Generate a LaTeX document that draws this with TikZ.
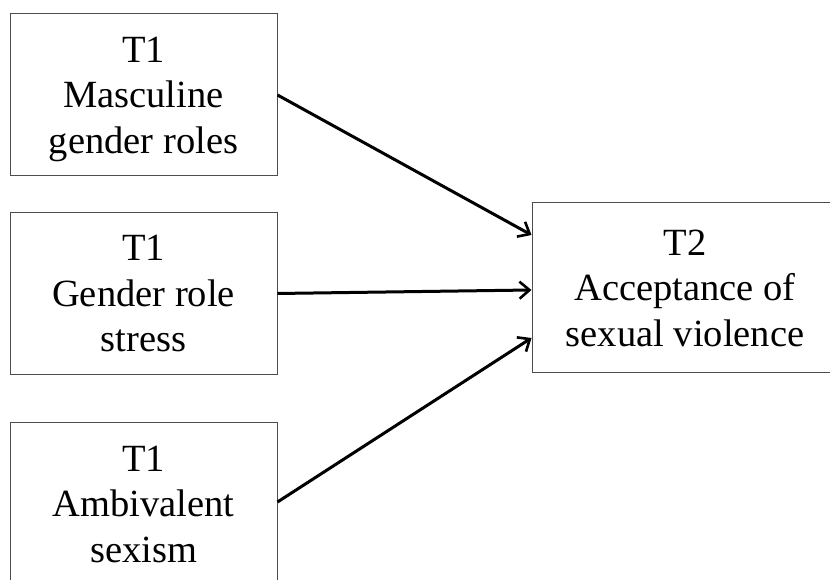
\documentclass[tikz,border=0pt]{standalone}
\usepackage{fontspec}
\setmainfont{Liberation Serif}
\usepackage{tikz}
\usetikzlibrary{arrows.meta}
\usepackage{xcolor}

\begin{document}
\begin{tikzpicture}[x=1pt,y=1pt,
  varbox/.style={draw=black!70,line width=1pt,minimum width=267pt,minimum height=162pt,
    inner sep=0pt,align=center,text depth=-11pt,font=\fontsize{38.5}{45.5}\selectfont},
  effect/.style={draw=black,line width=3pt,-{Straight Barb[length=10pt,width=17pt,line width=2.6pt]}}]
  \clip (0,0) rectangle (830,580);
  \fill[white] (0,0) rectangle (830,580);

  % T1 predictors
  \node [varbox] (masc) at (143.5,485) {T1\\Masculine\\gender roles};
  \node [varbox] (stress) at (143.5,286.5) {T1\\Gender role\\stress};
  \node [varbox] (sexism) at (143.5,76) {T1\\Ambivalent\\sexism};

  % T2 outcome
  \node [varbox,minimum width=306pt,minimum height=170pt] (accept) at (685,292)
    {T2\\Acceptance of\\sexual violence};

  \draw[effect] (masc.east) -- ([yshift=53pt]accept.west);
  \draw[effect] (stress.east) -- ([yshift=-2pt]accept.west);
  \draw[effect] ([yshift=2pt]sexism.east) -- ([yshift=-50pt]accept.west);
\end{tikzpicture}
\end{document}
